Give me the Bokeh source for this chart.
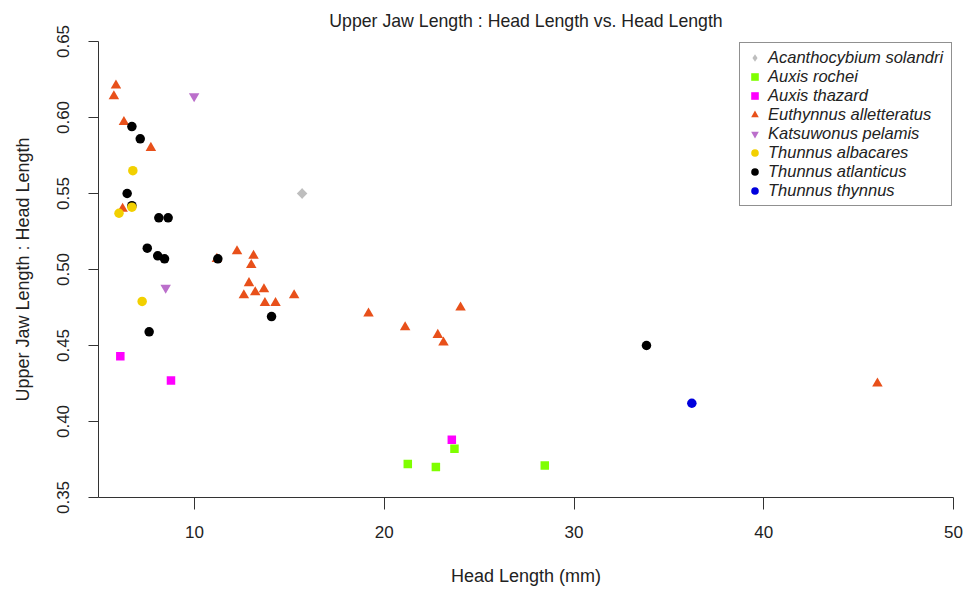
import math
from bokeh.plotting import figure
from bokeh.models import Legend, LegendItem, FixedTicker, NumeralTickFormatter, Range1d
from bokeh.embed import file_html
from bokeh.resources import INLINE

# ---- data ----
title_text = "Upper Jaw Length : Head Length vs. Head Length"
species = ["Acanthocybium solandri", "Auxis rochei", "Auxis thazard",
           "Euthynnus alletteratus", "Katsuwonus pelamis", "Thunnus albacares",
           "Thunnus atlanticus", "Thunnus thynnus"]

acantho_x = [15.67]
acantho_y = [0.550]

rochei_x = [23.70, 21.24, 22.72, 28.46]
rochei_y = [0.382, 0.372, 0.370, 0.371]

thazard_x = [6.09, 8.76, 23.56]
thazard_y = [0.443, 0.427, 0.388]

euth_x = [5.86, 5.75, 6.28, 7.70, 6.21, 11.18, 12.24, 13.11, 12.99, 12.87, 12.60,
          13.20, 13.66, 13.71, 14.27, 15.25, 19.17, 21.10, 22.82, 23.12, 24.02, 45.99]
euth_y = [0.621, 0.614, 0.597, 0.580, 0.540, 0.507, 0.512, 0.509, 0.503, 0.491, 0.483,
          0.485, 0.487, 0.478, 0.478, 0.483, 0.471, 0.462, 0.457, 0.452, 0.475, 0.425]

kats_x = [9.98, 8.48]
kats_y = [0.614, 0.488]

alba_x = [6.75, 6.70, 6.02, 7.24]
alba_y = [0.565, 0.541, 0.537, 0.479]

atla_x = [6.70, 7.14, 6.45, 6.70, 8.12, 8.61, 7.51, 8.06, 8.42, 11.23, 7.61, 14.06, 33.82]
atla_y = [0.594, 0.586, 0.550, 0.542, 0.534, 0.534, 0.514, 0.509, 0.507, 0.507, 0.459, 0.469, 0.450]

thyn_x = [36.21]
thyn_y = [0.412]

x_ticks = [10, 20, 30, 40, 50]
y_ticks = [0.35, 0.40, 0.45, 0.50, 0.55, 0.60, 0.65]

FONT = "Liberation Sans"
TXT = "#222222"

p = figure(width=966, height=590, output_backend="svg", toolbar_location=None,
           x_range=Range1d(4.94, 50), y_range=Range1d(0.35, 0.65),
           min_border_left=98, min_border_right=13, min_border_top=41, min_border_bottom=93,
           title=title_text)
p.outline_line_color = None
p.grid.visible = False
p.background_fill_color = "white"
p.border_fill_color = "white"

p.title.text_font = FONT
p.title.text_font_size = "17.7px"
p.title.text_font_style = "normal"
p.title.text_color = TXT
p.title.align = "center"
p.title.vertical_align = "top"
p.title.standoff = 18

p.xaxis.ticker = FixedTicker(ticks=x_ticks)
p.yaxis.ticker = FixedTicker(ticks=y_ticks)
p.yaxis.formatter = NumeralTickFormatter(format="0.00")
p.yaxis.major_label_orientation = "vertical"

for ax in (p.xaxis, p.yaxis):
    ax.axis_line_color = "#333333"
    ax.major_tick_line_color = "#333333"
    ax.minor_tick_line_color = None
    ax.major_tick_in = 0
    ax.major_label_text_font = FONT
    ax.major_label_text_font_size = "17px"
    ax.major_label_text_color = TXT
    ax.axis_label_text_font = FONT
    ax.axis_label_text_font_size = "18px"
    ax.axis_label_text_font_style = "normal"
    ax.axis_label_text_color = TXT

p.xaxis.major_tick_out = 12
p.yaxis.major_tick_out = 10
p.xaxis.major_label_standoff = 16
p.yaxis.major_label_standoff = 20
p.xaxis.axis_label = "Head Length (mm)"
p.yaxis.axis_label = "Upper Jaw Length : Head Length"
p.xaxis.axis_label_standoff = 25
p.yaxis.axis_label_standoff = 21

# drawing order: Euthynnus, Katsuwonus, atlanticus, albacares, others
r_euth = p.scatter(euth_x, euth_y, marker="triangle", size=10.5, fill_color="#E8501A", line_color=None)
r_kats = p.scatter(kats_x, kats_y, marker="inverted_triangle", size=10.5, fill_color="#BB6FCB", line_color=None)
r_atla = p.scatter(atla_x, atla_y, marker="circle", size=9.5, fill_color="#000000", line_color=None)
r_alba = p.scatter(alba_x, alba_y, marker="circle", size=9.5, fill_color="#F2D000", line_color=None)
r_acan = p.scatter(acantho_x, acantho_y, marker="diamond", size=10.5, fill_color="#BEBEBE", line_color=None)
p.scatter(acantho_x, acantho_y, marker="square", angle=math.pi / 4, size=7.5,
          fill_color="#BEBEBE", line_color=None)
r_roch = p.scatter(rochei_x, rochei_y, marker="square", size=8.5, fill_color="#7FFF00", line_color=None)
r_thaz = p.scatter(thazard_x, thazard_y, marker="square", size=8.5, fill_color="#FF00FF", line_color=None)
r_thyn = p.scatter(thyn_x, thyn_y, marker="circle", size=9.5, fill_color="#0000DD", line_color=None)

renderers = [r_acan, r_roch, r_thaz, r_euth, r_kats, r_alba, r_atla, r_thyn]
items = [LegendItem(label=s, renderers=[r]) for s, r in zip(species, renderers)]
legend = Legend(items=items, location="top_right", margin=1, padding=5, spacing=0,
                glyph_width=19, glyph_height=19, label_height=19, label_width=178,
                label_standoff=4, border_line_color="#222222", border_line_width=1,
                background_fill_color="white", background_fill_alpha=1.0,
                label_text_font=FONT, label_text_font_size="16.5px",
                label_text_font_style="italic", label_text_color=TXT)
p.add_layout(legend)

open("out.html", "w").write(file_html(p, INLINE))
